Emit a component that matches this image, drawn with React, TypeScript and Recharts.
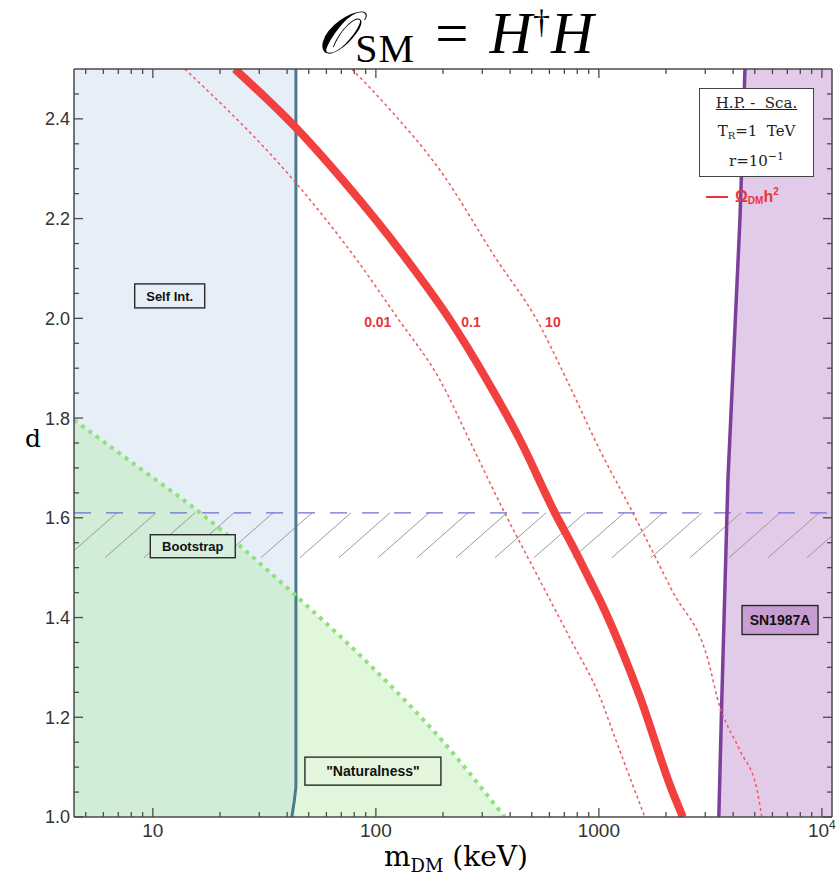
import React from "react";
import {
  ComposedChart,
  XAxis,
  YAxis,
  Area,
  Line,
  ReferenceArea,
  ReferenceLine,
  ReferenceDot,
} from "recharts";

// axis ranges (m in keV, log scale)
const xDomain = [4.43, 11100];
const yDomain = [1.0, 2.5];

const xMajorTicks = [10, 100, 1000, 10000];
const xMinorTicks = [
  5, 6, 7, 8, 9, 20, 30, 40, 50, 60, 70, 80, 90, 200, 300, 400, 500, 600, 700,
  800, 900, 2000, 3000, 4000, 5000, 6000, 7000, 8000, 9000,
];
const yMajorTicks = [1.0, 1.2, 1.4, 1.6, 1.8, 2.0, 2.2, 2.4];
const yMinorTicks = [
  1.05, 1.1, 1.15, 1.25, 1.3, 1.35, 1.45, 1.5, 1.55, 1.65, 1.7, 1.75, 1.85,
  1.9, 1.95, 2.05, 2.1, 2.15, 2.25, 2.3, 2.35, 2.45,
];

// relic abundance contours
const relic01 = [
  { m: 23.3, d: 2.5 },
  { m: 43.4, d: 2.384 },
  { m: 71.1, d: 2.277 },
  { m: 138, d: 2.117 },
  { m: 215, d: 1.997 },
  { m: 315, d: 1.876 },
  { m: 443, d: 1.756 },
  { m: 635, d: 1.61 },
  { m: 780, d: 1.535 },
  { m: 911, d: 1.475 },
  { m: 1010, d: 1.435 },
  { m: 1282, d: 1.329 },
  { m: 1528, d: 1.241 },
  { m: 2124, d: 1.054 },
  { m: 2380, d: 1.0 },
];
const relic001 = [
  { m: 13.9, d: 2.5 },
  { m: 42.0, d: 2.281 },
  { m: 82.2, d: 2.117 },
  { m: 124, d: 2.003 },
  { m: 194, d: 1.876 },
  { m: 269, d: 1.746 },
  { m: 378, d: 1.61 },
  { m: 543, d: 1.475 },
  { m: 749, d: 1.355 },
  { m: 1010, d: 1.241 },
  { m: 1192, d: 1.154 },
  { m: 1607, d: 1.0 },
];
const relic10 = [
  { m: 78, d: 2.5 },
  { m: 116, d: 2.418 },
  { m: 194, d: 2.297 },
  { m: 349, d: 2.117 },
  { m: 527, d: 1.997 },
  { m: 719, d: 1.876 },
  { m: 1010, d: 1.736 },
  { m: 1420, d: 1.61 },
  { m: 2124, d: 1.455 },
  { m: 3146, d: 1.301 },
  { m: 3384, d: 1.241 },
  { m: 4285, d: 1.134 },
  { m: 5120, d: 1.054 },
  { m: 5380, d: 1.0 },
];

// exclusion regions
const selfIntLine = [
  { m: 43.8, d: 2.5 },
  { m: 43.8, d: 1.06 },
  { m: 43.0, d: 1.03 },
  { m: 42.0, d: 1.0 },
];
const selfIntRegion = [{ m: 4.43, d: 2.5 }, ...selfIntLine];
const naturalness = [
  { m: 4.43, d: 1.796 },
  { m: 8.47, d: 1.704 },
  { m: 16.3, d: 1.61 },
  { m: 42.5, d: 1.449 },
  { m: 94, d: 1.305 },
  { m: 194, d: 1.158 },
  { m: 378, d: 1.0 },
];
const snLine = [
  { m: 3450, d: 1.0 },
  { m: 3560, d: 1.24 },
  { m: 3790, d: 1.676 },
  { m: 4290, d: 2.197 },
  { m: 4520, d: 2.5 },
];
const snRegion = [...snLine, { m: 11100, d: 2.5 }];
const bootstrapD = 1.61;
const bootstrapLow = 1.52;

// annotations
const contourLabels = [
  { m: 102, d: 1.993, text: "0.01" },
  { m: 267, d: 1.993, text: "0.1" },
  { m: 622, d: 1.993, text: "10" },
];

const AXIS = "#4a4a4a";
const TICK_FONT = "'Liberation Sans', Arial, sans-serif";
const SERIF = "'Liberation Serif', 'DejaVu Serif', serif";

const BottomLabel = (props: any) => {
  const { x, y, payload } = props;
  const v = payload.value;
  return (
    <text x={x} y={y + 20} textAnchor="middle" fontFamily={TICK_FONT} fontSize={19} fill="#333">
      {v === 10000 ? (
        <>
          10<tspan dy={-8} fontSize={12}>4</tspan>
        </>
      ) : (
        String(v)
      )}
    </text>
  );
};

const LeftLabel = (props: any) => {
  const { x, y, payload } = props;
  return (
    <text x={x - 4} y={y} dy="0.36em" textAnchor="end" fontFamily={TICK_FONT} fontSize={18} fill="#333">
      {payload.value.toFixed(1)}
    </text>
  );
};

// inward frame ticks drawn at both ends of a reference line
const xTick = (len: number) => (props: any) => {
  const { x1, y1, y2 } = props;
  const top = Math.min(y1, y2);
  const bot = Math.max(y1, y2);
  return (
    <g>
      <line x1={x1} x2={x1} y1={top} y2={top + len} stroke={AXIS} strokeWidth={1.3} />
      <line x1={x1} x2={x1} y1={bot} y2={bot - len} stroke={AXIS} strokeWidth={1.3} />
    </g>
  );
};
const yTick = (len: number) => (props: any) => {
  const { x1, x2, y1 } = props;
  const left = Math.min(x1, x2);
  const right = Math.max(x1, x2);
  return (
    <g>
      <line x1={left} x2={left + len} y1={y1} y2={y1} stroke={AXIS} strokeWidth={1.3} />
      <line x1={right} x2={right - len} y1={y1} y2={y1} stroke={AXIS} strokeWidth={1.3} />
    </g>
  );
};

const boxLabel =
  (text: string, w: number, h: number, fill: string, size = 13) =>
  (props: any) => {
    const { cx, cy } = props;
    return (
      <g>
        <rect x={cx - w / 2} y={cy - h / 2} width={w} height={h} fill={fill} stroke="#2a2a2a" strokeWidth={1.4} />
        <text
          x={cx}
          y={cy}
          dy="0.36em"
          textAnchor="middle"
          fontFamily={TICK_FONT}
          fontWeight="bold"
          fontSize={size}
          fill="#111"
        >
          {text}
        </text>
      </g>
    );
  };

const redLabel = (text: string) => (props: any) => (
  <text
    x={props.cx}
    y={props.cy}
    dy="0.36em"
    textAnchor="middle"
    fontFamily={TICK_FONT}
    fontWeight="bold"
    fontSize={14}
    fill="#e8353a"
  >
    {text}
  </text>
);

const HatchShape = (props: any) => {
  const { x, y, width, height } = props;
  const step = 39;
  const run = (height * 50) / 44;
  const lines = [];
  for (let sx = x - 8; sx < x + width; sx += step) {
    let x1 = sx;
    let y1 = y + height;
    const x2 = sx + run;
    if (x1 < x) {
      y1 = y + height - ((x - sx) / run) * height;
      x1 = x;
    }
    if (x2 > x + width) {
      const t = (x + width - sx) / run;
      lines.push(<line key={sx} x1={x1} y1={y1} x2={x + width} y2={y + height - t * height} stroke="#9a9a9a" strokeWidth={1} />);
    } else {
      lines.push(<line key={sx} x1={x1} y1={y1} x2={x2} y2={y} stroke="#9a9a9a" strokeWidth={1} />);
    }
  }
  return <g>{lines}</g>;
};

export default function App() {
  return (
    <div style={{ position: "absolute", left: 0, top: 0, width: 840, height: 887 }}>
      <ComposedChart
        width={840}
        height={887}
        margin={{ top: 68, right: 7, bottom: 69, left: 73 }}
      >
        <Area data={selfIntRegion} dataKey="d" type="linear" stroke="none" fill="#e6eff8" fillOpacity={1} isAnimationActive={false} />
        <Area data={naturalness} dataKey="d" type="linear" stroke="none" fill="#b5eba6" fillOpacity={0.4} isAnimationActive={false} />
        <Area data={snRegion} dataKey="d" type="linear" stroke="none" fill="#e2cbe8" fillOpacity={1} isAnimationActive={false} />

        <ReferenceArea y1={bootstrapLow} y2={bootstrapD} shape={HatchShape} />
        <ReferenceLine y={bootstrapD} stroke="#6f6fd0" strokeWidth={1.3} strokeDasharray="17 15" />

        <Line data={selfIntLine} dataKey="d" type="linear" stroke="#4b7a8e" strokeWidth={3} dot={false} isAnimationActive={false} />
        <Line data={snLine} dataKey="d" type="linear" stroke="#7b3f9c" strokeWidth={3.5} dot={false} isAnimationActive={false} />
        <Line data={naturalness} dataKey="d" type="monotone" stroke="#8fe27c" strokeWidth={4} strokeDasharray="4 5" dot={false} isAnimationActive={false} />

        <Line data={relic001} dataKey="d" type="monotone" stroke="#f0585a" strokeWidth={1.5} strokeDasharray="3 3" dot={false} isAnimationActive={false} />
        <Line data={relic10} dataKey="d" type="monotone" stroke="#f0585a" strokeWidth={1.5} strokeDasharray="3 3" dot={false} isAnimationActive={false} />
        <Line data={relic01} dataKey="d" type="monotone" stroke="#f2403f" strokeWidth={8} strokeLinejoin="round" dot={false} isAnimationActive={false} />

        {contourLabels.map((c) => (
          <ReferenceDot key={c.text} x={c.m} y={c.d} r={0} shape={redLabel(c.text)} />
        ))}
        <ReferenceDot x={11.9} y={2.045} r={0} shape={boxLabel("Self Int.", 70, 24, "#e6eff8")} />
        <ReferenceDot x={15.1} y={1.543} r={0} shape={boxLabel("Bootstrap", 85, 23, "#d8eedf")} />
        <ReferenceDot x={97} y={1.092} r={0} shape={boxLabel("\"Naturalness\"", 136, 28, "#e4f7dd", 14)} />
        <ReferenceDot x={6490} y={1.395} r={0} shape={boxLabel("SN1987A", 76, 29, "#c89dd3", 14)} />

        {/* frame ticks (Mathematica style, pointing inward on all four sides) */}
        {xMajorTicks.map((v) => (
          <ReferenceLine key={"xM" + v} x={v} shape={xTick(9)} />
        ))}
        {xMinorTicks.map((v) => (
          <ReferenceLine key={"xm" + v} x={v} shape={xTick(5)} />
        ))}
        {yMajorTicks.map((v) => (
          <ReferenceLine key={"yM" + v} y={v} shape={yTick(9)} />
        ))}
        {yMinorTicks.map((v) => (
          <ReferenceLine key={"ym" + v} y={v} shape={yTick(5)} />
        ))}

        <XAxis
          dataKey="m"
          type="number"
          scale="log"
          domain={xDomain}
          allowDataOverflow
          ticks={xMajorTicks}
          interval={0}
          tickLine={false}
          tickSize={0}
          tickMargin={0}
          height={1}
          tick={BottomLabel}
          axisLine={{ stroke: AXIS, strokeWidth: 1.5 }}
        />
        <XAxis
          xAxisId="top"
          orientation="top"
          type="number"
          scale="log"
          domain={xDomain}
          allowDataOverflow
          ticks={xMajorTicks}
          tickLine={false}
          tick={false}
          height={1}
          axisLine={{ stroke: AXIS, strokeWidth: 1.5 }}
        />
        <YAxis
          dataKey="d"
          type="number"
          domain={yDomain}
          allowDataOverflow
          ticks={yMajorTicks}
          interval={0}
          tickLine={false}
          tickSize={0}
          tickMargin={0}
          width={1}
          tick={LeftLabel}
          axisLine={{ stroke: AXIS, strokeWidth: 1.5 }}
        />
        <YAxis
          yAxisId="right"
          orientation="right"
          type="number"
          domain={yDomain}
          allowDataOverflow
          ticks={yMajorTicks}
          tickLine={false}
          tick={false}
          width={1}
          axisLine={{ stroke: AXIS, strokeWidth: 1.5 }}
        />
      </ComposedChart>

      {/* title */}
      <div
        style={{
          position: "absolute",
          left: 456,
          top: 3,
          transform: "translateX(-50%)",
          fontFamily: SERIF,
          fontSize: 59,
          lineHeight: "60px",
          whiteSpace: "nowrap",
          color: "#000",
          letterSpacing: 1,
        }}
      >
        <span style={{ fontStyle: "italic" }}>𝒪</span>
        <span style={{ fontSize: 40, position: "relative", top: 9 }}>SM</span>
        <span style={{ margin: "0 20px" }}>=</span>
        <span style={{ fontStyle: "italic" }}>H</span>
        <span style={{ fontSize: 34, position: "relative", top: -20 }}>†</span>
        <span style={{ fontStyle: "italic" }}>H</span>
      </div>

      {/* x label */}
      <div
        style={{
          position: "absolute",
          left: 456,
          top: 840,
          transform: "translateX(-50%)",
          fontFamily: "'DejaVu Serif', serif",
          fontSize: 28,
          whiteSpace: "nowrap",
        }}
      >
        m<span style={{ fontSize: 18, position: "relative", top: 6 }}>DM</span> (keV)
      </div>

      {/* y label */}
      <div style={{ position: "absolute", left: 25, top: 424, fontFamily: "'DejaVu Serif', serif", fontSize: 25 }}>d</div>

      {/* legend box */}
      <div
        style={{
          position: "absolute",
          left: 699,
          top: 88,
          width: 115,
          height: 89,
          boxSizing: "border-box",
          border: "1.5px solid #444",
          background: "#fff",
          fontFamily: "'DejaVu Serif', serif",
          fontSize: 15,
          color: "#222",
          textAlign: "center",
          lineHeight: "28px",
        }}
      >
        <div style={{ textDecoration: "underline" }}>H.P. -&nbsp;&nbsp;Sca.</div>
        <div>
          T<span style={{ fontSize: 10, position: "relative", top: 3 }}>R</span>=1&nbsp; TeV
        </div>
        <div>
          r=10<span style={{ fontSize: 11, position: "relative", top: -6 }}>−1</span>
        </div>
      </div>
      <div
        style={{
          position: "absolute",
          left: 706,
          top: 188,
          fontFamily: TICK_FONT,
          fontWeight: "bold",
          fontSize: 16,
          color: "#e8353a",
          whiteSpace: "nowrap",
          display: "flex",
          alignItems: "center",
        }}
      >
        <span style={{ display: "inline-block", width: 22, height: 2, background: "#e8353a", marginRight: 7 }} />
        Ω<span style={{ fontSize: 10, position: "relative", top: 3 }}>DM</span>h
        <span style={{ fontSize: 10, position: "relative", top: -6 }}>2</span>
      </div>
    </div>
  );
}
